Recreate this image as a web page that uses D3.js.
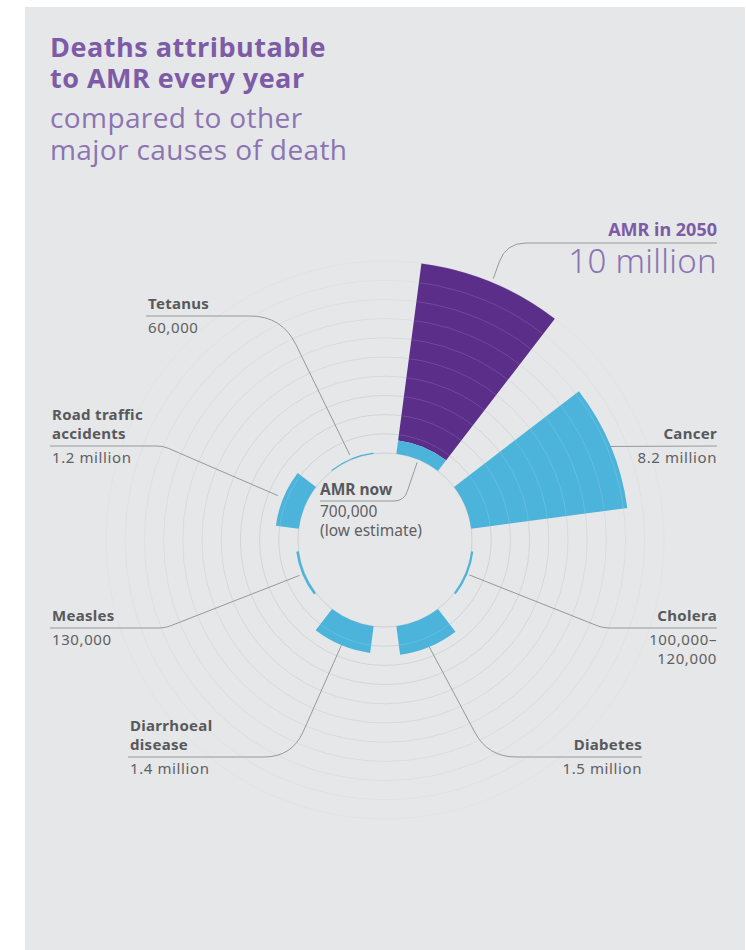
<!DOCTYPE html>
<html>
<head>
<meta charset="utf-8">
<script src="https://cdn.jsdelivr.net/npm/d3@7"></script>
<style>
body{margin:0;background:#fff;}
svg text{font-family:"Noto Sans",sans-serif;}
</style>
</head>
<body>
<div id="chart"></div>
<script>
// deaths per year (millions), clockwise from 12 o'clock
var causes = ["AMR in 2050","Cancer","Cholera","Diabetes","Diarrhoeal disease","Measles","Road traffic accidents","Tetanus"];
var deaths = [10, 8.2, 0.11, 1.5, 1.4, 0.13, 1.2, 0.06];
var amrNow = 0.7;
var nameLines = [["AMR in 2050"],["Cancer"],["Cholera"],["Diabetes"],["Diarrhoeal","disease"],["Measles"],["Road traffic","accidents"],["Tetanus"]];
var valueLines = [["10 million"],["8.2 million"],["100,000–","120,000"],["1.5 million"],["1.4 million"],["130,000"],["1.2 million"],["60,000"]];
var gridTicks = [1,2,3,4,5,6,7,8,9,10];
var titleBold = ["Deaths attributable","to AMR every year"];
var titleLight = ["compared to other","major causes of death"];

// where each label sits (underline start, knee of the leader line)
var labelPos = [
	{x:717, y:243, anchor:"end", kx:506, rad:20, gap:4},
	{x:717, y:446, anchor:"end", kx:null, rad:0, gap:0},
	{x:717, y:628, anchor:"end", kx:603, rad:6, gap:2},
	{x:642, y:757, anchor:"end", kx:488, rad:28, gap:0},
	{x:130, y:757, anchor:"start", kx:292, rad:28, gap:0},
	{x:52, y:628, anchor:"start", kx:165, rad:6, gap:3},
	{x:52, y:446, anchor:"start", kx:163, rad:6, gap:6},
	{x:148, y:316, anchor:"start", kx:282, rad:32, gap:4}
];

var W = 746, H = 950, cx = 385, cy = 540;
var purple = "#5b2e89", blue = "#4cb4db", bg = "#e6e7e9";

var svg = d3.select("#chart").append("svg")
	.attr("width", W).attr("height", H);

svg.append("rect")
	.attr("x", 25).attr("y", 7).attr("width", 720).attr("height", 943)
	.attr("fill", bg);

// title
var title = svg.append("g").attr("transform", "translate(50,0)");
title.selectAll("text.tb").data(titleBold).enter().append("text")
	.attr("class","tb")
	.attr("y", function(d,i){return 57 + i*31})
	.attr("fill", "#7d5ba6")
	.style("font-family", "'Open Sans', sans-serif")
	.style("font-weight", 700)
	.style("font-size", "27px")
	.style("letter-spacing", "0.5px")
	.text(function(d){return d});
title.selectAll("text.tl").data(titleLight).enter().append("text")
	.attr("class","tl")
	.attr("y", function(d,i){return 128 + i*32})
	.attr("fill", "#8b74b1")
	.style("font-family", "'Open Sans', sans-serif")
	.style("font-weight", 400)
	.style("font-size", "28px")
	.style("letter-spacing", "0.4px")
	.text(function(d){return d});

var r = d3.scaleLinear().domain([0, 10]).range([87, 279]);
var a = d3.scaleBand().domain(causes).range([0, 2*Math.PI])
	.paddingInner(1/3).paddingOuter(1/6);

var g = svg.append("g").attr("transform", "translate("+cx+","+cy+")");

// grid rings, fading outward
var fade = d3.scaleLinear().domain([0, 10]).range([1, 0.2]);
g.selectAll("circle.grid").data([0].concat(gridTicks)).enter().append("circle")
	.attr("class","grid")
	.attr("r", function(d){return r(d)})
	.attr("fill","none")
	.attr("stroke","#cfd0d3")
	.attr("stroke-opacity", function(d){return fade(d)})
	.attr("stroke-width", 1);

var arc = d3.arc();
function seg(c, v0, v1){
	return arc({innerRadius:r(v0), outerRadius:r(v1),
		startAngle:a(c), endAngle:a(c)+a.bandwidth()});
}

var bars = causes.map(function(c,i){
	if (i === 0) return {d: seg(c, amrNow, deaths[i]), fill: purple};
	return {d: seg(c, 0, deaths[i]), fill: blue};
});
bars.push({d: seg(causes[0], 0, amrNow), fill: blue});

var defs = svg.append("defs");
var clip = defs.append("clipPath").attr("id","barclip");
clip.selectAll("path").data(bars).enter().append("path").attr("d", function(d){return d.d});

g.selectAll("path.bar").data(bars).enter().append("path")
	.attr("class","bar")
	.attr("d", function(d){return d.d})
	.attr("fill", function(d){return d.fill});

// rings showing through the bars
g.append("g").attr("clip-path","url(#barclip)")
	.selectAll("circle").data(gridTicks).enter().append("circle")
	.attr("r", function(d){return r(d)})
	.attr("fill","none")
	.attr("stroke","#fff")
	.attr("stroke-opacity",0.13);

// leader lines
function anchorPt(c, rad){
	var ang = a(c) + a.bandwidth()/2;
	return [cx + rad*Math.sin(ang), cy - rad*Math.cos(ang)];
}
function leader(x0, y, kx, p, rad){
	var path = d3.path();
	path.moveTo(x0, y);
	if (kx === null) { path.lineTo(p[0], p[1]); return path.toString(); }
	var dir = Math.sign(kx - x0);
	var dx = p[0]-kx, dy = p[1]-y, len = Math.hypot(dx, dy);
	path.lineTo(kx - dir*rad, y);
	path.quadraticCurveTo(kx, y, kx + dx/len*rad, y + dy/len*rad);
	path.lineTo(p[0], p[1]);
	return path.toString();
}

var lines = svg.append("g").attr("fill","none").attr("stroke","#8e8f92").attr("stroke-width",0.9);
causes.forEach(function(c,i){
	var L = labelPos[i];
	var p = anchorPt(c, r(deaths[i]) + L.gap);
	var x0 = L.anchor === "end" ? L.x : L.x - 2;
	lines.append("path").attr("d", leader(x0, L.y, L.kx, p, L.rad));
});

// labels
var labels = svg.append("g");
causes.forEach(function(c,i){
	var L = labelPos[i];
	var amr = i === 0;
	var n = nameLines[i].length;
	labels.selectAll(null).data(nameLines[i]).enter().append("text")
		.attr("x", L.x)
		.attr("y", function(d,j){return L.y - 7 - (n-1-j)*19})
		.attr("text-anchor", L.anchor)
		.attr("fill", amr ? "#7d5ba6" : "#58595b")
		.style("font-weight", 700)
		.style("font-size", amr ? "18px" : "15px")
		.style("letter-spacing", amr ? "0px" : "0.3px")
		.text(function(d){return d});
	labels.selectAll(null).data(valueLines[i]).enter().append("text")
		.attr("x", L.x)
		.attr("y", function(d,j){return amr ? L.y + 30 : L.y + 17 + j*19})
		.attr("text-anchor", L.anchor)
		.attr("fill", amr ? "#8b74b1" : "#5f6062")
		.style("font-weight", amr ? 300 : 400)
		.style("font-size", amr ? "33px" : "15px")
		.style("letter-spacing", amr ? "0.3px" : "0.6px")
		.text(function(d){return d});
});

// AMR now, inside the ring
var nowPt = anchorPt(causes[0], r(0) - 3);
lines.append("path").attr("d", leader(320, 501, 404, nowPt, 10));
var nowLines = ["700,000", "(low estimate)"];
labels.append("text")
	.attr("x", 320).attr("y", 495)
	.attr("fill", "#58595b")
	.style("font-weight", 700).style("font-size", "15.5px")
	.text("AMR now");
labels.selectAll(null).data(nowLines).enter().append("text")
	.attr("x", 320)
	.attr("y", function(d,j){return 517 + j*19})
	.attr("fill", "#5f6062")
	.style("font-size", "15.5px")
	.text(function(d){return d});
</script>
</body>
</html>
